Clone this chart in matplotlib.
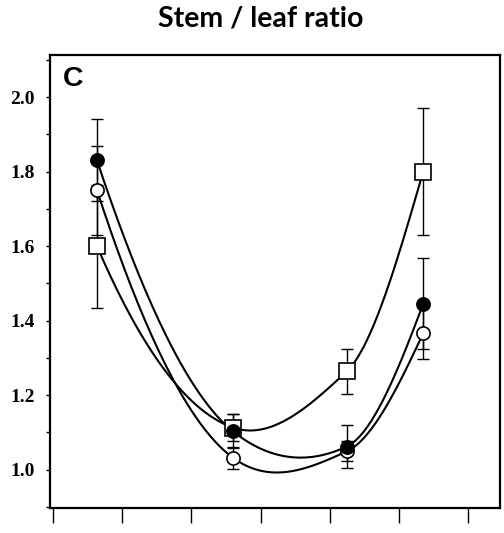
import numpy as np
import matplotlib
matplotlib.use("Agg")
import matplotlib.pyplot as plt

# sampling positions (x axis has unlabeled ticks 0..6)
x = [0.636, 2.60, 4.246, 5.35]

# stem / leaf ratio per treatment
filled = [1.83, 1.103, 1.062, 1.445]
filled_err = [0.11, 0.045, 0.057, 0.122]
opened = [1.75, 1.032, 1.049, 1.366]
opened_err = [0.12, 0.03, 0.027, 0.07]
square = [1.60, 1.113, 1.264, 1.80]
square_err = [0.165, 0.035, 0.06, 0.17]

xticks = [0, 1, 2, 3, 4, 5, 6]
yticks = [1.0, 1.2, 1.4, 1.6, 1.8, 2.0]


def smooth(xk, yk, c=0.3, n=60):
    # cardinal hermite spline through the means
    xk = np.asarray(xk, float)
    yk = np.asarray(yk, float)
    h = np.diff(xk)
    d = np.diff(yk) / h
    m = np.zeros_like(yk)
    m[1:-1] = (1 - c) * (yk[2:] - yk[:-2]) / (xk[2:] - xk[:-2])
    m[0] = ((2 * h[0] + h[1]) * d[0] - h[0] * d[1]) / (h[0] + h[1])
    m[-1] = ((2 * h[-1] + h[-2]) * d[-1] - h[-1] * d[-2]) / (h[-1] + h[-2])
    px, py = [], []
    for i in range(len(h)):
        t = np.linspace(0, 1, n)
        h00 = 2 * t**3 - 3 * t**2 + 1
        h10 = t**3 - 2 * t**2 + t
        h01 = -2 * t**3 + 3 * t**2
        h11 = t**3 - t**2
        px.append(xk[i] + t * h[i])
        py.append(h00 * yk[i] + h10 * h[i] * m[i] + h01 * yk[i + 1] + h11 * h[i] * m[i + 1])
    return np.concatenate(px), np.concatenate(py)


fig = plt.figure(figsize=(5.04, 5.33), dpi=100)
ax = fig.add_axes([50 / 504, 1 - 508 / 533, 450 / 504, 453 / 533])


def series(vals, errs, face, marker, ms, z):
    cx, cy = smooth(x, vals)
    ax.plot(cx, cy, color="black", lw=1.5, zorder=2)
    ax.errorbar(x, vals, yerr=errs, fmt="none", ecolor="black", elinewidth=1,
                capsize=4.5, capthick=1, zorder=3)
    ax.plot(x, vals, linestyle="none", marker=marker, ms=ms, mfc=face,
            mec="black", mew=1.2, zorder=z)


series(square, square_err, "white", "s", 11, 4)
series(opened, opened_err, "white", "o", 9.5, 5)
series(filled, filled_err, "black", "o", 9.5, 6)

ax.set_xlim(-0.043, 6.46)
ax.set_ylim(0.897, 2.113)
ax.set_xticks(xticks)
ax.set_xticklabels([])
ax.set_yticks(yticks)
ax.set_yticks(np.arange(0.9, 2.11, 0.1), minor=True)
ax.set_yticklabels(["%.1f" % v for v in yticks], family="Liberation Serif",
                   fontsize=14, fontweight="bold")
ax.tick_params(axis="x", direction="out", length=11, width=1)
ax.tick_params(axis="y", which="both", direction="out", length=3, width=1, pad=8)
for s in ax.spines.values():
    s.set_linewidth(1.6)

ax.text(0.029, 0.975, "C", transform=ax.transAxes, ha="left", va="top",
        family="Liberation Sans", fontweight="bold", fontsize=20.5)

fig.text(261 / 504, 1 - 18 / 533, "Stem / leaf ratio", ha="center", va="center",
         family="Lato", fontweight="bold", fontsize=20.5)

fig.savefig("out.png", dpi=100)
